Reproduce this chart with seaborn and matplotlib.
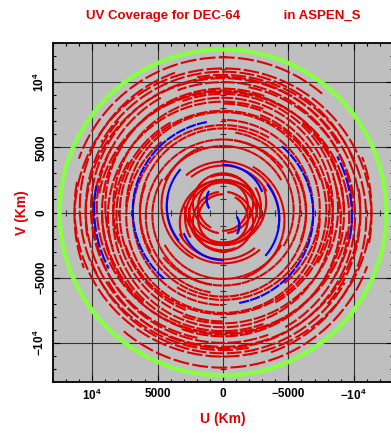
import numpy as np
import pandas as pd
import seaborn as sns
import matplotlib.pyplot as plt
from matplotlib.patches import Circle
from matplotlib.ticker import FixedLocator, MultipleLocator

plt.rcParams['font.family'] = ['Liberation Sans', 'DejaVu Sans']
plt.rcParams['mathtext.fontset'] = 'custom'
plt.rcParams['mathtext.rm'] = 'Liberation Sans'
plt.rcParams['mathtext.bf'] = 'Liberation Sans:bold'

# baselines: radius (km), centre shift in v (km),
# arc start / end angle (deg, 0 = +V, 90 = +U); each one is also drawn mirrored
outer_A = [11700, 11350, 10950, 10700, 10500, 10100, 9900, 9650, 9250, 9000,
           8800, 8400, 8150, 7900, 7400, 6900, 6350, 5900]
outer_v0 = [200, -300, 400, 100, -200, 300, -100, -400, 100, 500,
            -300, 400, -200, -100, 300, -200, 100, -300]
outer_t1 = [-40, -100, 20, -70, -130, -60, 60, -150, -90, -20,
            -20, -120, 30, -70, -140, -30, -110, -50]
outer_t2 = [70, 110, 190, 60, 100, 170, 200, 80, 140, 110,
            200, 110, 180, 160, 90, 180, 120, 170]

inner_A = [1900, 2300, 2600, 2900, 3300, 3800, 4300, 4700, 5100, 5400]
inner_v0 = [-500, 700, -300, 400, -800, 200, -400, 600, 0, -200]
inner_t1 = [0, -170, -90, 90, -40, 120, -100, 20, -60, 60]
inner_t2 = [330, 170, 200, 300, 110, 220, 40, 150, 60, 170]

blue_A = [1250, 3200, 4300, 6900, 9850]
blue_v0 = [1000, 455, -500, 150, 250]
blue_t1 = [62, -68, -130, 11, 80]
blue_t2 = [120, 0, -51, 139, 117]

uv_max = 12500          # green limit circle
scan_step = 7.2         # deg of hour angle between scan starts
scan_len = 5.2          # deg covered by one scan

x_ticks = [10000, 5000, 0, -5000, -10000]
x_labels = [r'$\mathbf{10^4}$', '5000', '0', '\u22125000', r'$\mathbf{-10^4}$']
y_ticks = [-10000, -5000, 0, 5000, 10000]
y_labels = [r'$\mathbf{-10^4}$', '\u22125000', '0', '5000', r'$\mathbf{10^4}$']

red = '#e00000'
blue = '#0000ff'


def build_tracks(A_list, v0_list, t1_list, t2_list, kind, seg0):
    frames = []
    seg = seg0
    for A, v0, t1, t2 in zip(A_list, v0_list, t1_list, t2_list):
        for sign in (1, -1):
            for start in np.arange(t1, t2, scan_step):
                th = np.radians(np.linspace(start, min(start + scan_len, t2), 6))
                frames.append(pd.DataFrame({
                    'u': sign * A * np.sin(th),
                    'v': sign * (v0 + A * np.cos(th)),
                    'seg': seg,
                    'kind': kind,
                }))
                seg += 1
    return frames, seg


f1, n = build_tracks(outer_A, outer_v0, outer_t1, outer_t2, 'red', 0)
f2, n = build_tracks(inner_A, inner_v0, inner_t1, inner_t2, 'red', n)
f3, n = build_tracks(blue_A, blue_v0, blue_t1, blue_t2, 'blue', n)
df = pd.concat(f1 + f2 + f3, ignore_index=True)

fig = plt.figure(figsize=(3.91, 4.34), dpi=100)
ax = fig.add_axes([53 / 391, 52 / 434, 340 / 391, 339 / 434])
ax.set_facecolor('#bfbfbf')

sns.lineplot(data=df, x='u', y='v', hue='kind', hue_order=['red', 'blue'],
             palette={'red': red, 'blue': blue}, units='seg', estimator=None,
             sort=False, lw=1.5, legend=False, ax=ax, zorder=3)

ax.add_patch(Circle((0, 0), uv_max, fill=False, ec='#88ff44', lw=3.2, zorder=4))

# small ticks along the centre cross
cross = [p for p in range(-12000, 13000, 1000) if p != 0]
ax.plot(cross, [0] * len(cross), ls='none', marker='|', ms=5, mew=0.8, color='#333333', zorder=2)
ax.plot([0] * len(cross), cross, ls='none', marker='_', ms=5, mew=0.8, color='#333333', zorder=2)

ax.set_xlim(13000, -13000)
ax.set_ylim(-13000, 13000)
ax.xaxis.set_major_locator(FixedLocator(x_ticks))
ax.yaxis.set_major_locator(FixedLocator(y_ticks))
ax.set_xticklabels(x_labels, fontweight='bold', fontsize=8.5)
ax.set_yticklabels(y_labels, fontweight='bold', fontsize=8.5, rotation=90, va='center')
ax.xaxis.set_minor_locator(MultipleLocator(1000))
ax.yaxis.set_minor_locator(MultipleLocator(1000))
ax.tick_params(which='both', direction='in', top=True, right=True, width=0.8)
ax.tick_params(which='major', length=5, pad=4)
ax.tick_params(which='minor', length=2.5)
ax.grid(True, which='major', color='#333333', lw=0.8, zorder=1)
ax.set_axisbelow(True)
for s in ax.spines.values():
    s.set_linewidth(1.3)

ax.set_xlabel('U (Km)', color=red, fontsize=10, fontweight='bold', labelpad=7)
ax.set_ylabel('V (Km)', color=red, fontsize=10, fontweight='bold', labelpad=2)
ax.set_title('UV Coverage for DEC-64            in ASPEN_S', color=red,
             fontsize=9.5, fontweight='bold', pad=17)

fig.savefig('out.png', dpi=100)
